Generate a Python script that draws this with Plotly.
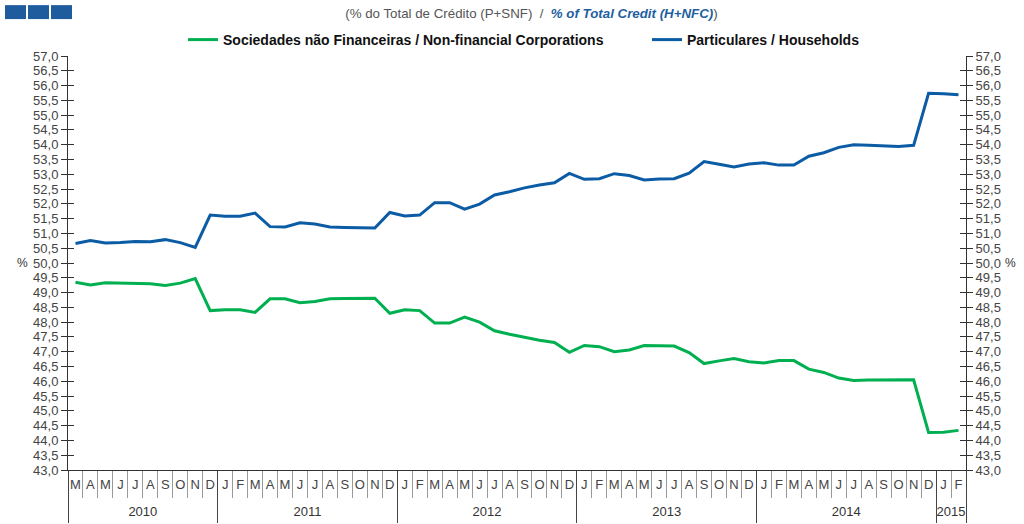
import plotly.graph_objects as go

# monthly series, Mar 2010 - Feb 2015
months = ["M", "A", "M", "J", "J", "A", "S", "O", "N", "D"] + \
         ["J", "F", "M", "A", "M", "J", "J", "A", "S", "O", "N", "D"] * 4 + ["J", "F"]
years = ["2010", "2011", "2012", "2013", "2014", "2015"]
months_per_year = [10, 12, 12, 12, 12, 2]

households = [
    50.66, 50.76, 50.68, 50.69, 50.73, 50.72, 50.79, 50.69, 50.53, 51.62,
    51.58, 51.58, 51.69, 51.23, 51.22, 51.36, 51.32, 51.22, 51.20, 51.18, 51.18, 51.71,
    51.59, 51.62, 52.04, 52.04, 51.82, 51.99, 52.30, 52.41, 52.54, 52.64, 52.71, 53.03,
    52.83, 52.85, 53.02, 52.96, 52.81, 52.84, 52.85, 53.04, 53.43, 53.34, 53.25, 53.35,
    53.39, 53.31, 53.31, 53.61, 53.73, 53.91, 54.00, 53.98, 53.97, 53.94, 53.98, 55.74,
    55.72, 55.69,
]
corporations = [
    49.35, 49.26, 49.33, 49.32, 49.29, 49.30, 49.24, 49.32, 49.47, 48.39,
    48.42, 48.42, 48.33, 48.79, 48.79, 48.66, 48.70, 48.79, 48.80, 48.81, 48.81, 48.30,
    48.42, 48.39, 47.97, 47.97, 48.17, 48.00, 47.71, 47.59, 47.48, 47.39, 47.31, 46.98,
    47.21, 47.17, 47.00, 47.06, 47.21, 47.19, 47.19, 46.97, 46.60, 46.69, 46.77, 46.66,
    46.62, 46.70, 46.70, 46.41, 46.30, 46.11, 46.03, 46.04, 46.05, 46.06, 46.05, 44.27,
    44.28, 44.34,
]

GREEN = "#00B050"
BLUE = "#0B5CA5"
FONT = "Liberation Sans, Arial, sans-serif"

n = len(months)
x = list(range(n))
month_edges = [i - 0.5 for i in range(1, n)]
year_edges = [-0.5]
year_centers = []
pos = -0.5
for m in months_per_year:
    year_centers.append(pos + m / 2)
    pos += m
    year_edges.append(pos)

fig = go.Figure()
fig.add_trace(go.Scatter(x=x, y=corporations, mode="lines", line=dict(color=GREEN, width=3),
                         name="Sociedades não Financeiras / Non-financial Corporations",
                         legend="legend"))
fig.add_trace(go.Scatter(x=x, y=households, mode="lines", line=dict(color=BLUE, width=3),
                         name="Particulares / Households", legend="legend2"))

yrange = [43, 57]
xrange_ = [-0.5, n - 0.5]
tickfont = dict(family=FONT, size=13, color="#444")
legfont = dict(family=FONT, size=14, color="#111", weight="bold")

fig.update_layout(
    width=1024, height=524,
    margin=dict(l=68, r=58, t=55, b=54),
    plot_bgcolor="white", paper_bgcolor="white",
    separators=",.",
    showlegend=True,
    legend=dict(orientation="h", xref="container", x=183 / 1024, xanchor="left",
                yref="container", y=1 - 40 / 524, yanchor="middle",
                font=legfont, itemwidth=30),
    legend2=dict(orientation="h", xref="container", x=647 / 1024, xanchor="left",
                 yref="container", y=1 - 40 / 524, yanchor="middle",
                 font=legfont, itemwidth=30),
    title=dict(
        text="(% do Total de Crédito (P+SNF)  /  "
             "<span style='color:#1F5F9F'><b><i>% of Total Credit (H+NFC)</i></b></span>)",
        x=0.519, xanchor="center", y=1 - 13 / 524, yanchor="middle",
        font=dict(family=FONT, size=13.3, color="#555")),
    xaxis=dict(range=xrange_, tickmode="array", tickvals=x, ticktext=months,
               ticks="", showgrid=False, zeroline=False, showline=True, automargin=False,
               linecolor="#333", linewidth=1, tickfont=tickfont, ticklabelstandoff=2,
               minor=dict(tickmode="array", tickvals=month_edges, ticks="outside",
                          ticklen=27, tickcolor="#999", tickwidth=1)),
    xaxis2=dict(range=xrange_, overlaying="x", anchor="y", side="bottom", automargin=False,
                tickmode="array", tickvals=year_centers, ticktext=years, ticks="",
                showgrid=False, zeroline=False, showline=False,
                tickfont=dict(family=FONT, size=13, color="#333"), ticklabelstandoff=32,
                minor=dict(tickmode="array", tickvals=year_edges, ticks="outside",
                           ticklen=52, tickcolor="#444", tickwidth=1)),
    yaxis=dict(range=yrange, dtick=0.5, tick0=43, tickformat=".1f", ticks="outside",
               ticklen=6, tickcolor="#333", showgrid=False, zeroline=False, automargin=False,
               showline=True, linecolor="#333", tickfont=tickfont),
    yaxis2=dict(range=yrange, dtick=0.5, tick0=43, tickformat=".1f", ticks="outside",
                ticklen=6, tickcolor="#333", showgrid=False, zeroline=False,
                overlaying="y", side="right", anchor="x", automargin=False,
                showline=True, linecolor="#333", tickfont=tickfont),
    yaxis3=dict(range=yrange, dtick=0.5, tick0=43, ticks="inside", ticklen=6,
                tickcolor="#333", showticklabels=False, showgrid=False, automargin=False,
                zeroline=False, overlaying="y", side="left", anchor="x"),
    yaxis4=dict(range=yrange, dtick=0.5, tick0=43, ticks="inside", ticklen=6,
                tickcolor="#333", showticklabels=False, showgrid=False, automargin=False,
                zeroline=False, overlaying="y", side="right", anchor="x"),
)

# empty helper traces so the overlay axes get drawn
for xa, ya in [("x2", "y"), ("x", "y2"), ("x", "y3"), ("x", "y4")]:
    fig.add_trace(go.Scatter(x=[None], y=[None], xaxis=xa, yaxis=ya,
                             showlegend=False, hoverinfo="skip"))

# "%" unit labels on both sides
for xp in (-0.059, 1.058):
    fig.add_annotation(text="%", x=xp, y=0.5, xref="paper", yref="paper",
                       showarrow=False, font=dict(family=FONT, size=12, color="#333"))

# three blue squares in the top left corner (pixel -> paper helpers)
def px_x(p):
    return (p - 68) / 898

def px_y(p):
    return (470 - p) / 415

for left in (5, 28, 51):
    fig.add_shape(type="rect", xref="paper", yref="paper",
                  x0=px_x(left), x1=px_x(left + 21), y0=px_y(18), y1=px_y(4),
                  fillcolor="#1F5C9E", line=dict(width=0))

# drop the default 8px body margin so the figure sits at the page corner
fig.write_html("out.html", config={"displayModeBar": False},
               post_script="document.body.style.margin='0';")
